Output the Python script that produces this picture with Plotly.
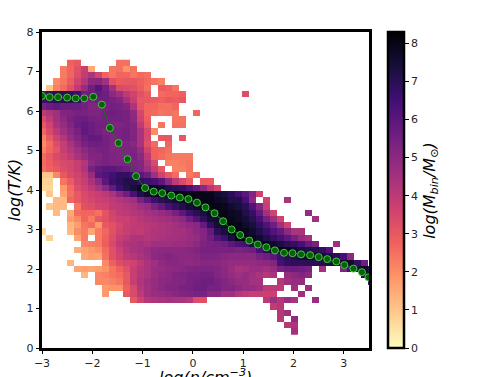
import plotly.graph_objects as go

_ = None

# log(M_bin/Msun) per cell, row_00 is the lowest temperature row
row_00 = [_] * 36 + [4.5]
row_01 = [_] * 35 + [4.1, 4.3]
row_02 = [_] * 34 + [4.1, _, 4.9]
row_03 = [_] * 34 + [4.2, 4.6]
row_04 = [_] * 33 + [3.9, 4.1]
row_05 = [_] * 13 + [3, 3.6, 4.2, 4.3, 4.4, 4.5, 4.4, 4.4, 4.2, 3.3, 3.2] + [_] * 8 + [4, 4.6, 4.2, 4.7, 4.4, _, _, 4.7]
row_06 = [_] * 9 + [1.8, _, _, 3, 3.4, 4, 4.5, 4.7, 4.8, 4.9, 5.1, 5.2, 5.3, 5.4, 5.4, 5, 5, 4.6, 4.6, 4.2, 4, 3.8, 3.8, 3.7, 3.7, _, _, _, 4.6]
row_07 = [_] * 9 + [1.8, 1.9, 1.9, 2.8, 3.4, 4.2, 4.5, 4.8, 5, 5.2, 5.2, 5.4, 5.4, 5.6, 5.6, 5.4, 5.4, 5.2, 5.2, 5, 4.8, 4.8, 4.6, 4, 4, 4, _, 4.6, _, 4.7]
row_08 = [_] * 8 + [2.1, 2.1, 2.2, 2.4, 3, 3.8, 4.3, 4.6, 4.8, 5, 5.1, 5.2, 5.2, 5.4, 5.5, 5.6, 5.6, 5.4, 5.2, 5, 4.8, 4.8, 4.5, 4.5, _, _, 4.2, 4.6, 4.8, 4.8] + [_] * 9 + [6.5]
row_09 = [_, _, _, _, _, _, 1.3, _, 2.1, 2.2, 2.4, 2.6, 3, 3.8, 4.2, 4.4, 4.7, 4.9, 5, 5.2, 5.3, 5.4, 5.4, 5.5, 5.5, 5.2, 5, 4.8, 4.6, 4.8, 4.6, 4.4, 4.2, 4.4, _, 4.8, 5, 5.2, 5, _, _, _, _, _, _, _, 7.2, 8]
row_10 = [_, _, _, _, _, 1.6, 1.7, 1.6, 1.7, 1.9, 2.4, 2.8, 3.2, 3.8, 4.2, 4.4, 4.7, 4.8, 4.9, 5, 5.1, 5.2, 5.3, 5.3, 5.3, 5.2, 5, 4.7, 4.4, 4.5, 4.7, 4.7, 4.5, 4.8, 5.4, 5.6, 5.7, 5.6, 5.4, _, 4.5, _, _, 5.2, 6.4, 7.3, 7.6, 7]
row_11 = [_, _, _, _, 1.3, _, _, _, _, 2.1, 2.8, 3.3, 3.5, 3.6, 4, 4.4, 4.6, 4.9, 5.1, 5.1, 5, 4.9, 5, 5.1, 5.1, 5.1, 4.9, 4.8, 4.8, 4.8, 4.8, 4.9, 5, 5.2, 6.4, 6.8, 6.9, 6.9, 7, 7, 7.1, 7.3, 7.6, 7.7, 7.6, 6.8, 5.6]
row_12 = [_, _, _, _, _, _, 1.5, 1.7, 1.6, 2.5, 3.2, 3.6, 4, 4.2, 4.4, 4.6, 5, 5.1, 5.2, 5.1, 5, 5, 5.1, 5.3, 5.3, 5.2, 5.1, 5, 5, 5, 5, 5.4, 5.6, 6, 6.6, 7, 7.2, 7.6, 7.7, 7.7, 7.5, 7.3, 7, 6.4, 5]
row_13 = [_, _, _, _, _, 1.4, 1.6, 1.8, 2, 2.6, 3.2, 3.7, 4.1, 4.4, 4.5, 4.7, 4.9, 5, 5, 5, 5, 5.1, 5.2, 5.4, 5.4, 5.4, 5.4, 5.4, 5.3, 5.4, 5.6, 6.4, 7, 7.8, 8, 7.9, 7.6, 7.4, 7.2, 7.2, 6.8, 6.2]
row_14 = [_, _, _, _, _, _, 2.1, 2.2, 2.3, 2.9, 3.4, 4, 4.3, 4.4, 4.5, 4.4, 4.6, 4.6, 4.6, 4.7, 4.7, 4.8, 5, 5.3, 5.4, 5.5, 5.6, 6, 6.3, 6.5, 7.3, 7.8, 8, 7.7, 7.4, 7, 6.8, 6.4, 5.8, 5.4, _, _, 4.6]
row_15 = [_, 0.8, _, _, _, 1.6, 2.3, _, 2.3, 2.8, 3.3, 3.8, 4, 4.3, 4.3, 4.2, 4.3, 4.4, 4.5, 4.5, 4.6, 4.7, 4.8, 5.2, 5.6, 6.2, 6.6, 7.4, 8, 8, 7.9, 7.6, 7.2, 6.8, 6.4, 6, 5.4, 4.8, 4.5]
row_16 = [0.6, _, _, _, 1.2, 2, 2.3, 1.6, 2.3, 2.7, 3.2, 3.6, 3.8, 4, 3.9, 4.1, 4.3, 4.3, 4.4, 4.5, 4.5, 4.7, 5, 5.2, 5.8, 7, 7.4, 7.8, 8, 7.9, 7.6, 7.2, 6.7, 6.2, 5.8, 5, 4.4, 4.4]
row_17 = [_, _, _, _, 1.3, 1.7, 2.4, 2.6, 1.8, 3, 3.2, 3.5, 3.8, 3.9, 4, 4.1, 4.2, 4.3, 4.4, 4.5, 4.7, 4.9, 5.1, 5.8, 6.8, 7.5, 7.7, 8, 8, 7.6, 7.4, 6.8, 6.2, 5.6, 4.6, 3.6]
row_18 = [_, _, _, _, 1.7, 2.1, 2.7, 2.3, 3, 3.2, 3.5, 3.7, 3.7, 3.9, 4.1, 4.3, 4.4, 4.5, 4.6, 4.8, 5, 5.6, 6.2, 6.9, 7.5, 7.6, 8, 7.9, 7.7, 7.5, 7, 6.4, 5.4, 4.6, 3.6, _, _, _, _, 4.6]
row_19 = [_, _, 1.2, _, 1.5, 2.6, 2.7, 2.7, 2.5, 3.1, 3.6, 3.9, 4, 4.2, 4.3, 4.5, 4.6, 4.8, 5, 5.4, 6, 6.6, 7, 7.4, 7.7, 7.9, 8, 7.8, 7.7, 7.2, 6.7, 5.8, 4.5, 3.6, _, _, _, _, 4.8]
row_20 = [_, 1, 1.2, 1.2, _, 2.4, 3.2, 3.3, 3.5, 3.6, 3.9, 4, 4.2, 4.3, 4.6, 4.8, 5.4, 5.9, 6.4, 6.8, 7.2, 7.5, 7.7, 7.9, 8, 8, 7.9, 7.6, 7.4, 7, 6.2, 5.2, 3.8]
row_21 = [_, _, 1.2, 1.2, 2.7, 3, 3.3, 3.5, 3.7, 3.8, 4, 4.2, 4.4, 4.6, 5.4, 6, 6.6, 7, 7.3, 7.5, 7.7, 7.8, 8, 8, 8, 7.8, 7.6, 7.2, 7.2, 6.4, 5, _, 3.6, _, _, 4.4]
row_22 = [_, 1, _, 1.6, 2.5, 3, 3.4, 3.6, 3.8, 4, 4.4, 5, 5.6, 6.4, 7.2, 7.6, 7.8, 7.9, 8, 8, 8, 8, 8, 8, 8, 7.6, 7.4, 7, 6.5, 6, 5.2, 3.6]
row_23 = [0.7, 0.7, _, 1.8, 2.6, 3.3, 3.6, 4, 4.4, 5, 5.8, 6.6, 7, 7.4, 7.8, 7.8, 7.8, 7.6, 7.2, 7, 6.8, 6.3, 5.8, 5, 4.1, 3.5]
row_24 = [0.8, 0.8, _, 2.4, 2.9, 3.5, 3.8, 4.4, 5, 6, 6.6, 6.9, 7.2, 7.2, 6.8, 6.6, 6.4, 6, 5, 4, 3.4, 2.9, _, 2.9, 2.9]
row_25 = [1, 1, 2.1, 3, 3.4, 3.6, 4, 4.8, 6, 6.2, 6.5, 6.8, 6.8, 6.4, 6, 5.6, 4.6, 3.6, 3, 2.6, _, 2.3, 2.6]
row_26 = [2.5, 2.8, 3, 3.3, 3.5, 3.8, 4.3, 5.4, 5.8, 6, 6, 5.8, 5.6, 5.4, 5.2, 4.6, 3.8, 3, _, 2.2, 2.2, 2.4]
row_27 = [2.6, 2.9, 3.2, 3.4, 3.5, 3.8, 4.2, 5, 5.3, 5.4, 5.3, 5.3, 5.3, 5.3, 5.2, 4.3, 3.4, _, 2.2, 2.2, 2.3, 2.4]
row_28 = [2.6, 3, 3.4, 3.6, 3.9, 4.4, 4.8, 5.2, 5.2, 5.4, 5.3, 5.2, 5.2, 5.4, 5, 4, 2.8, 2.6, 2.4, 2.3, 2.3, 2.3]
row_29 = [2.2, 2.7, 3.1, 3.8, 4.2, 4.6, 5, 5.3, 5.4, 5.4, 5.2, 5.2, 5.3, 5.3, 4.8, 3.6, 2.8, 2.7, 2.5]
row_30 = [2, 2.6, 3.3, 3.8, 4.4, 4.9, 5.4, 5.6, 5.6, 5.5, 5.2, 5.2, 5.3, 5.1, 4.4, 3.2, 2.6, _, 2.7]
row_31 = [2.2, 3, 3.6, 4.2, 4.8, 5.2, 5.6, 5.9, 5.8, 5.5, 5.3, 5.4, 5.5, 5.3, 4.4, 3.4, _, 3, 3, _, 3]
row_32 = [2.7, 3.4, 4, 4.6, 5, 5.4, 5.9, 5.7, 5.5, 5.3, 5.4, 5.4, 5.5, 5.2, 4.4, 3.4, 2]
row_33 = [3, 3.6, 4.4, 4.8, 5.2, 5.7, 5.9, 5.7, 5.5, 5.5, 5.3, 5.3, 5.4, 5.2, 4, 3, _, 2.4, _, 2.5, 2.5]
row_34 = [3.4, 4, 4.6, 5, 5.4, 5.6, 5.7, 5.5, 5.4, 5.5, 5.5, 5.5, 5.4, 5, 3.6, 2.8, _, _, _, 2.4, 2.4]
row_35 = [4, 4.3, 4.6, 5.2, 5.3, 5.4, 5.4, 5.3, 5.3, 5.5, 5.6, 5.5, 5.4, 4.9, 3.5, 2.7, 2.6, 2.4, 2.5, 2.4, _, _, 2.7]
row_36 = [5.4, 5.7, 5.9, 5.7, 5.7, 5.7, 5.5, 5.2, 5.2, 5.4, 5.5, 5.4, 5.2, 4.3, 3.1, 2.7, 2.7, 2.5, 2.5, 2.7]
row_37 = [6.6, 6.7, 7, 7, 7, 6.8, 5.6, 5.4, 5.6, 5.6, 5.4, 5.2, 4.5, 3.8, 3, 3, 2.9, 2.8, 3, 2.9, 3]
row_38 = [6.6, 6.8, 7, 7, 6.9, 6.6, 5.6, 5.6, 5.8, 5.6, 5, 4.6, 4, 3.6, 3.2, 2.9, _, 2.6, 2.7, 2.7, 2.8, _, _, _, _, _, _, _, _, 3.3]
row_39 = [_, 1, 2.2, 2.6, 3.2, 4, 4.8, 5.6, 6.1, 5.5, 4.5, 3.4, 3.3, 3.2, 2.9, 2.5, _, 2.9, 2.8, 2.4]
row_40 = [_, _, 2, 2.4, 2.9, 3.6, 4.2, 5, 5.1, 4.6, 3.2, 2.9, 3, 3, 2.8, 2.6, 2.4, 2.2]
row_41 = [_, _, _, 2.3, 2.7, 3.3, 3.9, 4.3, 3.6, 2.7, 2.4, 2.7, 2.7, 2.4, 2.6, 2.5]
row_42 = [_, _, _, 2.3, 2.7, 3.2, 3.8, 1.5, _, _, 2.4, 2.5, 1.9, 2.4]
row_43 = [_, _, _, _, 2.8, 3, _, _, _, _, _, 2.5, 2.5]

# median temperature track
track_n = [-3.0, -2.85, -2.68, -2.5, -2.33, -2.16, -1.98, -1.81, -1.65, -1.48, -1.3, -1.13, -0.95, -0.78, -0.61,
           -0.43, -0.26, -0.09, 0.08, 0.25, 0.43, 0.6, 0.77, 0.94, 1.12, 1.29, 1.46, 1.63, 1.81, 1.98, 2.15, 2.33,
           2.5, 2.67, 2.85, 3.01, 3.19, 3.36, 3.49]
track_t = [6.38, 6.35, 6.35, 6.34, 6.32, 6.32, 6.36, 6.16, 5.57, 5.19, 4.78, 4.35, 4.05, 3.96, 3.92,
           3.86, 3.81, 3.77, 3.68, 3.56, 3.41, 3.21, 3.0, 2.86, 2.72, 2.62, 2.55, 2.47, 2.41, 2.4, 2.37, 2.35,
           2.3, 2.25, 2.19, 2.1, 2.01, 1.92, 1.79]

rows = [row_00, row_01, row_02, row_03, row_04, row_05, row_06, row_07, row_08, row_09, row_10,
        row_11, row_12, row_13, row_14, row_15, row_16, row_17, row_18, row_19, row_20, row_21,
        row_22, row_23, row_24, row_25, row_26, row_27, row_28, row_29, row_30, row_31, row_32,
        row_33, row_34, row_35, row_36, row_37, row_38, row_39, row_40, row_41, row_42, row_43]
z = [r + [None] * (48 - len(r)) for r in rows]

BIN_X = 0.139
BIN_Y = 0.1582
FONT = "DejaVu Sans"
TEXT = "#262626"

fig = go.Figure()
fig.add_trace(go.Heatmap(
    z=z,
    x0=-3.066 + BIN_X / 2, dx=BIN_X,
    y0=0.337 + BIN_Y / 2, dy=BIN_Y,
    colorscale="Magma_r", zmin=0, zmax=8.3, hoverongaps=False,
    colorbar=dict(
        x=(388 - 42) / 327, xanchor="left", xpad=0, y=0, yanchor="bottom", ypad=0, len=1,
        thickness=16, outlinewidth=2.5, outlinecolor="black",
        ticks="outside", ticklen=4, tickwidth=1, tickcolor="black",
        tick0=0, dtick=1, tickfont=dict(family=FONT, size=11, color=TEXT),
    ),
))
fig.add_trace(go.Scatter(
    x=track_n, y=track_t, mode="lines+markers",
    line=dict(color="#0b7a0b", width=1),
    marker=dict(size=7, color="#006400", line=dict(color="#4fc24f", width=1)),
    showlegend=False,
))

axis = dict(showgrid=False, zeroline=False, showline=True, mirror=True, linecolor="black", linewidth=2.5,
            ticks="outside", ticklen=3.5, tickwidth=1, tickcolor="black", dtick=1, automargin=False,
            tickfont=dict(family=FONT, size=11, color=TEXT))
fig.update_xaxes(range=[-3, 3.5], tick0=-3, **axis)
fig.update_yaxes(range=[0, 8], tick0=0, **axis)

labels = [
    dict(text="<i>log(n/cm<sup>−3</sup>)</i>", x=0.5, y=-0.05, xanchor="center", yanchor="top", textangle=0),
    dict(text="<i>log(T/K)</i>", x=-0.085, y=0.5, xanchor="center", yanchor="middle", textangle=-90),
    dict(text="<i>log(M<sub>bin</sub>/M<sub>⊙</sub>)</i>", x=1.186, y=0.5, xanchor="center", yanchor="middle", textangle=-90),
]
for lab in labels:
    fig.add_annotation(xref="paper", yref="paper", showarrow=False,
                       font=dict(family=FONT, size=16, color="black"), **lab)

fig.update_layout(
    width=504, height=377, autosize=False,
    margin=dict(l=42, r=135, t=32, b=29, pad=0),
    paper_bgcolor="white", plot_bgcolor="white",
    font=dict(family=FONT),
)

fig.write_html("out.html", config=dict(displayModeBar=False), post_script="document.body.style.margin='0';")
